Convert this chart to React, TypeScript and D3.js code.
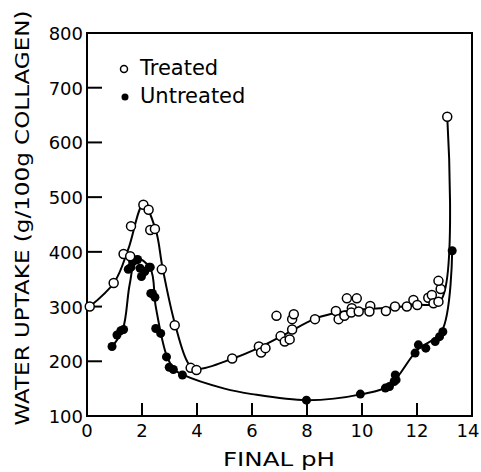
import React from 'react';
import * as d3 from 'd3';

// measured points, treated (open circles)
const treatedX = [0.1, 0.97, 1.33, 1.57, 1.6, 2.05, 2.24, 2.3, 2.47, 2.72, 3.19, 3.77, 3.98, 5.28,
  6.25, 6.33, 6.49, 6.89, 7.04, 7.19, 7.37, 7.46, 7.46, 7.52, 8.29, 9.05, 9.15, 9.36, 9.45, 9.81, 9.63,
  9.61, 9.88, 10.3, 10.27, 10.87, 11.2, 11.63, 11.87, 12.01, 12.41, 12.54, 12.6, 12.78, 12.86, 12.78, 13.1];
const treatedY = [300, 343, 396, 392, 447, 486, 477, 440, 442, 368, 266, 188, 184, 205,
  227, 216, 224, 283, 246, 236, 240, 258, 277, 286, 277, 292, 277, 283, 315, 315, 297,
  289, 291, 301, 291, 292, 300, 300, 312, 303, 316, 321, 306, 309, 332, 347, 647];

// measured points, untreated (filled circles)
const untreatedX = [0.91, 1.09, 1.23, 1.33, 1.5, 1.6, 1.66, 1.78, 1.84, 1.93, 1.98, 2.1, 2.26, 2.3, 2.32,
  2.38, 2.47, 2.5, 2.68, 2.89, 2.99, 3.14, 3.47, 7.98, 9.94, 10.85, 11.0, 11.17, 11.21, 11.24,
  11.93, 12.05, 12.32, 12.66, 12.82, 12.94, 13.28];
const untreatedY = [227, 248, 256, 258, 368, 372, 382, 385, 386, 370, 355, 364, 372, 372, 324,
  324, 317, 260, 251, 208, 189, 185, 175, 129, 140, 151, 154, 163, 175, 166,
  215, 230, 224, 236, 245, 254, 402];

// hand-drawn fitted curves
const treatedCurveX = [0.1, 1.0, 1.5, 2.05, 2.5, 2.75, 3.2, 3.7, 4.0, 5.3, 6.3, 7.3, 8.3, 9.2, 10.0, 11.0, 12.0, 12.85, 13.1];
const treatedCurveY = [300, 345, 405, 487, 440, 370, 268, 195, 186, 205, 226, 252, 278, 290, 295, 298, 303, 310, 647];
const untreatedCurveX = [0.91, 1.3, 1.55, 1.8, 2.3, 2.5, 2.9, 3.2, 3.5, 5.0, 6.0, 8.0, 10.0, 11.0, 12.0, 12.9, 13.28];
const untreatedCurveY = [227, 258, 340, 388, 370, 300, 210, 184, 175, 150, 140, 129, 140, 156, 220, 255, 402];

const xTicks = [0, 2, 4, 6, 8, 10, 12, 14];
const yTicks = [100, 200, 300, 400, 500, 600, 700, 800];

const W = 481;
const H = 472;

const App = () => {
  const x = d3.scaleLinear().domain([0, 14]).range([87, 472]);
  const y = d3.scaleLinear().domain([100, 800]).range([416, 33]);
  const font = "'DejaVu Sans', sans-serif";

  const line = d3.line<[number, number]>()
    .x(d => x(d[0]))
    .y(d => y(d[1]))
    .curve(d3.curveCatmullRom.alpha(0.5));

  const tPath = line(treatedCurveX.map((v, i) => [v, treatedCurveY[i]]));
  const uPath = line(untreatedCurveX.map((v, i) => [v, untreatedCurveY[i]]));

  return (
    <svg width={W} height={H} style={{ position: 'absolute', left: 0, top: 0, background: '#fff' }}>
      {/* frame */}
      <rect x={x(0)} y={y(800)} width={x(14) - x(0)} height={y(100) - y(800)}
        fill="none" stroke="#000" strokeWidth={2} />
      {/* inward ticks */}
      {yTicks.slice(1, -1).map(t => (
        <line key={'yt' + t} x1={x(0)} x2={x(0) + 15} y1={y(t)} y2={y(t)} stroke="#000" strokeWidth={2} />
      ))}
      {xTicks.slice(1, -1).map(t => (
        <line key={'xt' + t} x1={x(t)} x2={x(t)} y1={y(100)} y2={y(100) - 13} stroke="#000" strokeWidth={2} />
      ))}
      {yTicks.map(t => (
        <text key={'yl' + t} x={x(0) - 4} y={y(t) + 7} textAnchor="end" fontFamily={font} fontSize={18}>{t}</text>
      ))}
      {xTicks.map(t => (
        <text key={'xl' + t} x={t === 14 ? x(t) - 4 : x(t)} y={437} textAnchor="middle" fontFamily={font} fontSize={18}>{t}</text>
      ))}
      <text x={279} y={466} textAnchor="middle" fontFamily={font} fontSize={20}
        textLength={112} lengthAdjust="spacingAndGlyphs">FINAL pH</text>
      <text transform="translate(29,218) rotate(-90)" textAnchor="middle" fontFamily={font} fontSize={20}
        textLength={415} lengthAdjust="spacingAndGlyphs">WATER UPTAKE (g/100g COLLAGEN)</text>

      {/* curves */}
      <path d={tPath || ''} fill="none" stroke="#000" strokeWidth={2} />
      <path d={uPath || ''} fill="none" stroke="#000" strokeWidth={2} />

      {/* points */}
      {untreatedX.map((v, i) => (
        <circle key={'u' + i} cx={x(v)} cy={y(untreatedY[i])} r={4.5} fill="#000" />
      ))}
      {treatedX.map((v, i) => (
        <circle key={'t' + i} cx={x(v)} cy={y(treatedY[i])} r={4.5} fill="#fff" stroke="#000" strokeWidth={1.5} />
      ))}

      {/* legend */}
      <circle cx={124} cy={69} r={3.5} fill="#fff" stroke="#000" strokeWidth={1.5} />
      <text x={140} y={75} fontFamily={font} fontSize={21}>Treated</text>
      <circle cx={125} cy={97} r={3.5} fill="#000" />
      <text x={140} y={103} fontFamily={font} fontSize={21}>Untreated</text>
    </svg>
  );
};

export default App;
